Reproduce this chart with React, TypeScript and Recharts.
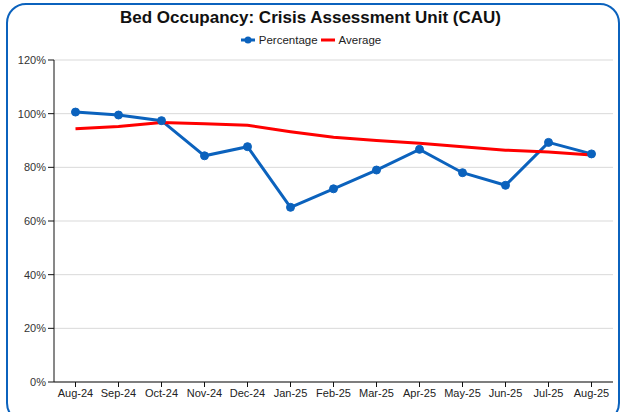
import React from 'react';
import { LineChart, Line, XAxis, YAxis, CartesianGrid } from 'recharts';

const months = [
  'Aug-24', 'Sep-24', 'Oct-24', 'Nov-24', 'Dec-24', 'Jan-25', 'Feb-25',
  'Mar-25', 'Apr-25', 'May-25', 'Jun-25', 'Jul-25', 'Aug-25',
];
const percentage = [100.6, 99.5, 97.4, 84.3, 87.7, 65.1, 72.0, 79.0, 86.7, 78.0, 73.3, 89.3, 85.0];
const average = [94.4, 95.2, 96.7, 96.2, 95.7, 93.3, 91.2, 90.0, 89.0, 87.7, 86.4, 85.7, 84.6];
const yTicks = [0, 20, 40, 60, 80, 100, 120];

const BLUE = '#0b62bd';
const RED = '#ff0000';
const FONT = '"Liberation Sans", Arial, sans-serif';

const data = months.map((m, i) => ({ month: m, pct: percentage[i], avg: average[i] }));

function LegendItems() {
  return (
    <div
      style={{
        position: 'absolute', top: 34, left: 0, width: 621,
        display: 'flex', justifyContent: 'center', alignItems: 'center',
        fontSize: 11.5, color: '#222', fontFamily: FONT,
      }}
    >
      <svg width={16} height={10} style={{ marginRight: 3 }}>
        <line x1={1} y1={5} x2={15} y2={5} stroke={BLUE} strokeWidth={3} />
        <circle cx={8} cy={5} r={3.5} fill={BLUE} />
      </svg>
      <span>Percentage</span>
      <svg width={16} height={10} style={{ marginLeft: 2, marginRight: 3 }}>
        <line x1={1} y1={5} x2={15} y2={5} stroke={RED} strokeWidth={3} />
      </svg>
      <span>Average</span>
    </div>
  );
}

export default function App() {
  return (
    <div style={{ position: 'absolute', left: 0, top: 0, width: 621, height: 412, overflow: 'hidden', background: '#fff' }}>
      <div
        style={{
          position: 'absolute', left: 6, top: 3, width: 614, height: 420,
          border: `2.5px solid ${BLUE}`, borderRadius: 20, boxSizing: 'border-box',
        }}
      />
      <div
        style={{
          position: 'absolute', top: 8, left: 0, width: 621, textAlign: 'center',
          fontFamily: FONT, fontWeight: 'bold', fontSize: 17, color: '#111',
        }}
      >
        Bed Occupancy: Crisis Assessment Unit (CAU)
      </div>
      <LegendItems />
      <div style={{ position: 'absolute', left: 0, top: 0 }}>
        <LineChart
          width={621}
          height={412}
          data={data}
          margin={{ top: 60, right: 8, bottom: 6, left: 8 }}
          style={{ fontFamily: FONT }}
        >
          <CartesianGrid vertical={false} stroke="#d9d9d9" strokeWidth={1} />
          <XAxis
            dataKey="month"
            height={24}
            padding={{ left: 21.5, right: 21.5 }}
            interval={0}
            axisLine={{ stroke: '#111' }}
            tickLine={{ stroke: '#111' }}
            tickSize={5}
            tick={{ fontSize: 11, fill: '#222' }}
          />
          <YAxis
            width={46}
            domain={[0, 120]}
            ticks={yTicks}
            interval={0}
            tickFormatter={(v: number) => `${v}%`}
            axisLine={{ stroke: '#111' }}
            tickLine={{ stroke: '#111' }}
            tickSize={6}
            tick={{ fontSize: 11, fill: '#333' }}
          />
          <Line
            dataKey="pct"
            stroke={BLUE}
            strokeWidth={3}
            dot={{ r: 4, fill: BLUE, stroke: BLUE, strokeWidth: 1 }}
            activeDot={false}
            isAnimationActive={false}
          />
          <Line
            dataKey="avg"
            stroke={RED}
            strokeWidth={3}
            dot={false}
            activeDot={false}
            isAnimationActive={false}
          />
        </LineChart>
      </div>
    </div>
  );
}
